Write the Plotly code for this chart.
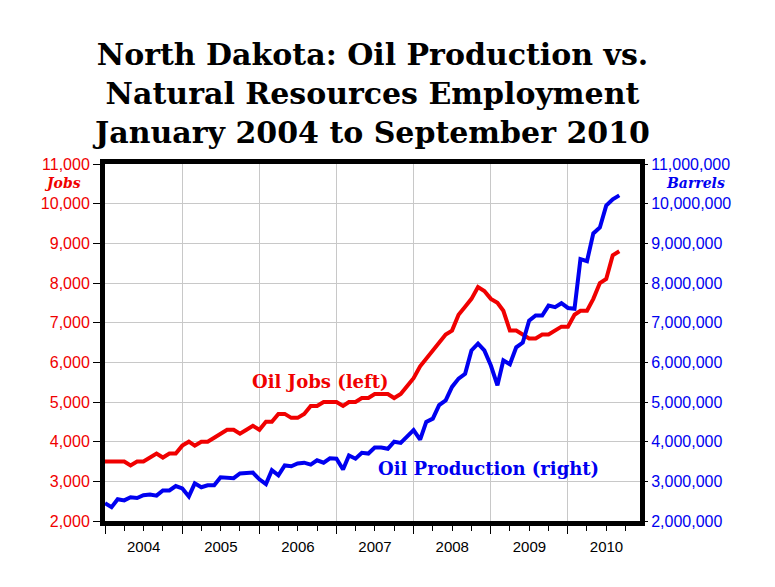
import pandas as pd
import plotly.graph_objects as go

# monthly, January 2004 to September 2010
months = pd.date_range("2004-01-01", "2010-09-01", freq="MS")

oil_jobs = [
    3500, 3500, 3500, 3500, 3400, 3500, 3500, 3600, 3700, 3600, 3700, 3700,
    3900, 4000, 3900, 4000, 4000, 4100, 4200, 4300, 4300, 4200, 4300, 4400,
    4300, 4500, 4500, 4700, 4700, 4600, 4600, 4700, 4900, 4900, 5000, 5000,
    5000, 4900, 5000, 5000, 5100, 5100, 5200, 5200, 5200, 5100, 5200, 5400,
    5600, 5900, 6100, 6300, 6500, 6700, 6800, 7200, 7400, 7600, 7900, 7800,
    7600, 7500, 7300, 6800, 6800, 6700, 6600, 6600, 6700, 6700, 6800, 6900,
    6900, 7200, 7300, 7300, 7600, 8000, 8100, 8700, 8800,
]

# barrels, in millions
oil_barrels_m = [
    2.45, 2.35, 2.55, 2.52, 2.60, 2.58, 2.65, 2.67, 2.64, 2.77, 2.77, 2.88,
    2.82, 2.62, 2.95, 2.85, 2.90, 2.90, 3.10, 3.10, 3.08, 3.20, 3.20, 3.22,
    3.05, 2.93, 3.28, 3.15, 3.40, 3.38, 3.45, 3.47, 3.42, 3.53, 3.47, 3.58,
    3.57, 3.30, 3.65, 3.57, 3.72, 3.70, 3.85, 3.85, 3.82, 4.00, 3.97, 4.12,
    4.29, 4.05, 4.50, 4.58, 4.92, 5.04, 5.38, 5.59, 5.71, 6.30, 6.47, 6.30,
    5.92, 5.42, 6.05, 5.95, 6.38, 6.50, 7.05, 7.18, 7.18, 7.43, 7.39, 7.49,
    7.37, 7.35, 8.60, 8.55, 9.25, 9.40, 9.95, 10.11, 10.21,
]
oil_barrels = [v * 1e6 for v in oil_barrels_m]

RED = "#f00000"
BLUE = "#0000f0"
SERIF = "DejaVu Serif"
SANS = "Liberation Sans, Arial"

fig = go.Figure()
fig.add_trace(go.Scatter(x=months, y=oil_jobs, mode="lines",
                         line=dict(color=RED, width=4), showlegend=False))
fig.add_trace(go.Scatter(x=months, y=oil_barrels, mode="lines", yaxis="y2",
                         line=dict(color=BLUE, width=4), showlegend=False))

fig.update_layout(
    width=775, height=587,
    paper_bgcolor="white", plot_bgcolor="white",
    margin=dict(l=97, r=143, t=156, b=74),
    title=dict(text="North Dakota: Oil Production vs.<br>Natural Resources Employment<br>January 2004 to September 2010",
               x=0.5, xref="paper", xanchor="center",
               y=1 - 57 / 587, yref="container", yanchor="top",
               font=dict(family=SERIF, size=30, color="black", weight="bold")),
    xaxis=dict(
        type="date", range=["2004-01-01", "2010-12-08"],
        dtick="M12", tick0="2004-01-01", ticklabelmode="period", tickformat="%Y",
        ticks="outside", ticklen=8, tickwidth=1, tickcolor="black",
        minor=dict(dtick="M3", ticks="outside", ticklen=5, tickwidth=1, tickcolor="black", showgrid=False),
        showgrid=True, gridcolor="#c8c8c8", gridwidth=1,
        showline=True, linecolor="black", linewidth=5, mirror=True,
        tickfont=dict(family=SANS, size=15, color="black"),
        zeroline=False,
    ),
    yaxis=dict(
        range=[2000, 11000], dtick=1000, tickformat=",d",
        ticks="outside", ticklen=7, tickcolor="black", tickwidth=1,
        showgrid=True, gridcolor="#c8c8c8", gridwidth=1,
        showline=True, linecolor="black", linewidth=5, mirror=True,
        tickfont=dict(family=SANS, size=16, color=RED),
        zeroline=False,
    ),
    yaxis2=dict(
        range=[2e6, 11e6], dtick=1e6, tickformat=",d",
        overlaying="y", side="right",
        ticks="outside", ticklen=7, tickcolor="black", tickwidth=1,
        showgrid=False, showline=False,
        tickfont=dict(family=SANS, size=16, color=BLUE),
        zeroline=False,
    ),
)

fig.add_annotation(text="<b><i>Jobs</i></b>", xref="paper", yref="paper",
                   x=-0.080, y=0.947, xanchor="center", yanchor="middle", showarrow=False,
                   font=dict(family=SERIF, size=14, color=RED))
fig.add_annotation(text="<b><i>Barrels</i></b>", xref="paper", yref="paper",
                   x=1.103, y=0.947, xanchor="center", yanchor="middle", showarrow=False,
                   font=dict(family=SERIF, size=14, color=BLUE))
fig.add_annotation(text="<b>Oil Jobs (left)</b>", xref="paper", yref="paper",
                   x=0.402, y=0.392, xanchor="center", yanchor="middle", showarrow=False,
                   font=dict(family=SERIF, size=18, color=RED))
fig.add_annotation(text="<b>Oil Production (right)</b>", xref="paper", yref="paper",
                   x=0.717, y=0.148, xanchor="center", yanchor="middle", showarrow=False,
                   font=dict(family=SERIF, size=18, color=BLUE))

fig.write_html("out.html")
